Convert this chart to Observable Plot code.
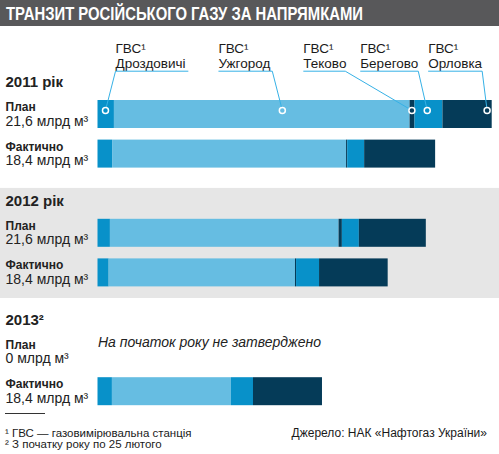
<!DOCTYPE html>
<html>
<head>
<meta charset="utf-8">
<script src="https://cdn.jsdelivr.net/npm/d3@7"></script>
<script src="https://cdn.jsdelivr.net/npm/@observablehq/plot@0.6"></script>
<style>
  body { margin: 0; background: #fff; font-family: "Liberation Sans", Arial, sans-serif; color: #1a1a1a; }
  #wrap { width: 499px; }
  #title { height: 26px; background: #58585a; }
  #title svg { display: block; }
  #chart { position: relative; height: 386px; }
  #chart svg { position: absolute; left: 0; top: 0; }
  #foot { position: relative; height: 42px; font-size: 11.5px; line-height: 11px; }
  #foot .rule { position: absolute; left: 5px; top: 1px; width: 40px; border-top: 1px solid #333; }
  #foot .l { position: absolute; left: 5px; white-space: nowrap; }
  #foot .r { position: absolute; right: 12px; top: 16px; white-space: nowrap; font-size: 12px; }
</style>
</head>
<body>
<div id="wrap">
  <div id="title">
    <svg width="499" height="26">
      <text x="6" y="19.5" fill="#fff" font-family="'Liberation Sans', Arial, sans-serif" font-weight="bold" font-size="18"
            textLength="357" lengthAdjust="spacingAndGlyphs">ТРАНЗИТ РОСІЙСЬКОГО ГАЗУ ЗА НАПРЯМКАМИ</text>
    </svg>
  </div>
  <div id="chart"></div>
  <div id="foot">
    <div class="rule"></div>
    <div class="l" style="top:16px">¹ ГВС — газовимірювальна станція</div>
    <div class="l" style="top:27px">² З початку року по 25 лютого</div>
    <div class="r">Джерело: НАК «Нафтогаз України»</div>
  </div>
</div>
<script>
// станції (газовимірювальні), кольори сегментів
const stations = ["Дроздовичі", "Ужгород", "Теково", "Берегово", "Орловка"];
const stationColors = ["#0891c9", "#66bde2", "#053b58", "#0891c9", "#053b58"];

// рядки діаграми
const rowKinds = ["План", "Фактично", "План", "Фактично", "Фактично"];
const rowTotals = ["21,6 млрд м³", "18,4 млрд м³", "21,6 млрд м³", "18,4 млрд м³", "18,4 млрд м³"];
const rowSlots = [0, 1, 3, 4, 7];

// обсяги по станціях, млрд м³ (оцінка з малюнка)
const plan2011 = [0.9, 16.2, 0.27, 1.53, 2.7];
const fact2011 = [0.8, 12.82, 0.06, 0.93, 3.89];
const plan2012 = [0.68, 12.53, 0.18, 0.93, 3.67];
const fact2012 = [0.61, 10.21, 0.06, 1.26, 3.76];
const fact2013 = [0.79, 6.52, 0, 1.21, 3.78];
const rowValues = [plan2011, fact2011, plan2012, fact2012, fact2013];

const yearTitles = ["2011 рік", "2012 рік", "2013²"];
const yearSlots = [0, 3, 6];

// 2013: план не затверджено
const emptyKinds = ["План"];
const emptyTotals = ["0 млрд м³"];
const emptySlots = [6];
const emptyNote = "На початок року не затверджено";

// підписи станцій над першим рядком (в одиницях осі x)
const labelStart = [0.96, 6.6, 11.25, 14.37, 18.09];
const labelEnd = [4.95, 9.55, 13.55, 17.55, 21.05];
const dotAt = [0.41, 10.1, 17.2, 18.04, 21.32];
const connectFrom = ["start", "end", "end", "end", "end"];

const barH = 0.707;    // висота смуги в частках кроку рядка
const lineY = -0.74;   // рівень підкреслення підписів
const dotY = 0.25;

// сегменти смуг
const segments = [];
rowValues.forEach((vals, r) => {
  let acc = 0;
  vals.forEach((v, i) => {
    segments.push({slot: rowSlots[r], x1: acc, x2: acc + v, color: stationColors[i], station: stations[i]});
    acc += v;
  });
});

// виноски: підкреслення + відвід до точки
const leaders = stations.map((s, i) => ({
  station: s,
  start: labelStart[i],
  end: labelEnd[i],
  from: connectFrom[i] === "start" ? labelStart[i] : labelEnd[i],
  dot: dotAt[i],
  color: stationColors[i]
}));

const rows = rowKinds.map((k, i) => ({kind: k, total: rowTotals[i], slot: rowSlots[i]}))
  .concat(emptyKinds.map((k, i) => ({kind: k, total: emptyTotals[i], slot: emptySlots[i]})));
const years = yearTitles.map((t, i) => ({title: t, slot: yearSlots[i]}));

// спільні налаштування шкал для основного шару і шару виносок
const base = {
  width: 499,
  height: 386,
  margin: 0,
  x: {domain: [0, 22], range: [97.5, 499], axis: null},
  y: {domain: [0, 7], range: [74, 351.2], axis: null},
  style: {fontFamily: "'Liberation Sans', Arial, sans-serif", color: "#1a1a1a", background: "transparent"}
};

const chart = Plot.plot({
  ...base,
  marks: [
    // сіра смуга 2012 року
    Plot.rect([{y1: yearSlots[1] - 0.78, y2: rowSlots[3] + 1}], {y1: "y1", y2: "y2", fill: "#e6e6e6"}),
    Plot.rect(segments, {x1: "x1", x2: "x2", y1: "slot", y2: d => d.slot + barH, fill: d => d.color}),
    Plot.text(leaders, {x: "start", y: () => 0, dy: -33, text: d => "ГВС¹\n" + d.station,
      lineAnchor: "bottom", textAnchor: "start", lineHeight: 1.11, fontSize: 13.5, fill: "#1a1a1a"}),
    Plot.text(years, {y: "slot", text: "title", frameAnchor: "left", dx: 5, dy: -13.5, lineAnchor: "bottom",
      textAnchor: "start", fontSize: 15, fontWeight: "bold", fill: "#222"}),
    Plot.text(rows, {y: "slot", text: "kind", frameAnchor: "left", dx: 5, dy: 10.5, lineAnchor: "bottom",
      textAnchor: "start", fontSize: 12, fontWeight: "bold", fill: "#222"}),
    Plot.text(rows, {y: "slot", text: "total", frameAnchor: "left", dx: 5, dy: 25, lineAnchor: "bottom",
      textAnchor: "start", fontSize: 14, fill: "#222"}),
    Plot.text([emptyNote], {x: () => 0, y: () => emptySlots[0], dy: 9, text: d => d, lineAnchor: "bottom",
      textAnchor: "start", fontSize: 14, fontStyle: "italic", fill: "#222"})
  ]
});

// виноски окремим шаром поверх
const overlay = Plot.plot({
  ...base,
  marks: [
    Plot.link(leaders, {x1: "start", x2: "end", y1: () => lineY, y2: () => lineY, stroke: "#36b1e6", strokeWidth: 1}),
    Plot.link(leaders, {x1: "from", x2: "dot", y1: () => lineY, y2: () => dotY, stroke: "#36b1e6", strokeWidth: 1}),
    Plot.dot(leaders, {x: "dot", y: () => dotY, r: 3, fill: d => d.color, stroke: "white", strokeWidth: 1.5})
  ]
});

const holder = document.getElementById("chart");
holder.appendChild(chart);
holder.appendChild(overlay);
</script>
</body>
</html>
